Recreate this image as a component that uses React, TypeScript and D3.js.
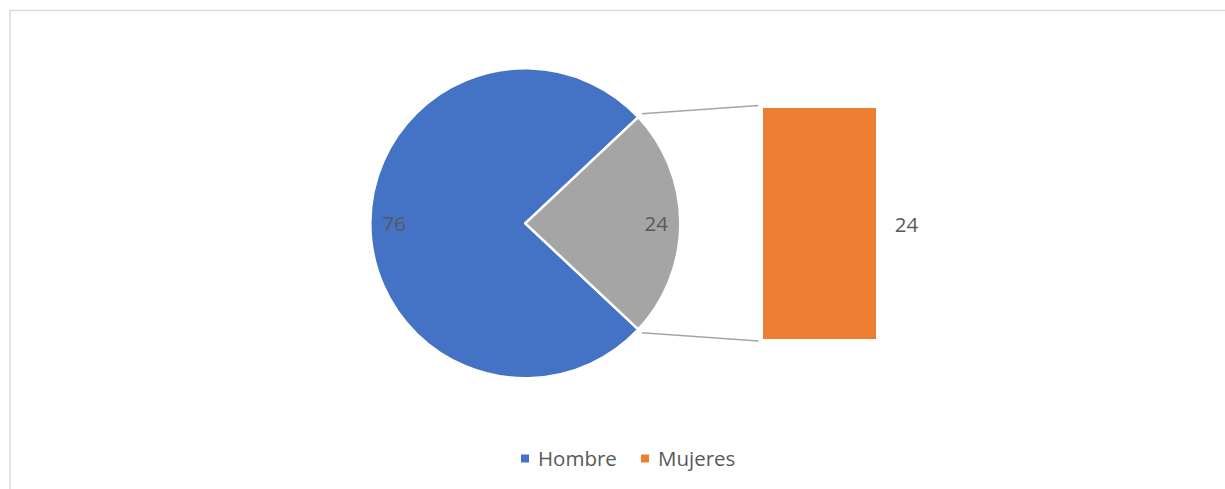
import React from "react";
import * as d3 from "d3";

const categories = ["Hombre", "Mujeres"];
const values = [76, 24];
const colors = ["#4472C4", "#ED7D31"];
const otherColor = "#A5A5A5";

const W = 1225;
const H = 489;

export default function App() {
  const cx = 525.3;
  const cy = 223.3;
  const r = 155;
  const total = d3.sum(values);
  const otherShare = values[1] / total;
  const start = Math.PI / 2 + otherShare * Math.PI;
  const pieGen = d3.pie<number>().sort(null).value((d) => d).startAngle(start).endAngle(start + 2 * Math.PI);
  const arcs = pieGen(values);
  const arcGen = d3.arc<d3.PieArcDatum<number>>().innerRadius(0).outerRadius(r);
  const labelArc = d3.arc<d3.PieArcDatum<number>>().innerRadius(131).outerRadius(131);

  // bar of pie
  const barX = 762.5;
  const barW = 114;
  const y = d3.scaleLinear().domain([0, values[1]]).range([339.5, 107.5]);

  const otherArc = arcs[1];
  const pt = (a: number, rr: number) => [cx + rr * Math.sin(a), cy - rr * Math.cos(a)];
  const p1 = pt(otherArc.startAngle, r + 5);
  const p2 = pt(otherArc.endAngle, r + 5);

  const font = "'Open Sans', sans-serif";
  const txt = "#595959";
  const fs = 20.5;

  return (
    <svg width={W} height={H} style={{ position: "absolute", left: 0, top: 0, background: "#fff" }}>
      <rect x={10} y={10.5} width={W + 50} height={H + 50} fill="#fff" stroke="#D9D9D9" strokeWidth={1.5} />
      <g transform={`translate(${cx},${cy})`}>
        {arcs.map((a, i) => (
          <path key={i} d={arcGen(a) || ""} fill={i === 0 ? colors[0] : otherColor} stroke="#fff" strokeWidth={2.5} strokeLinejoin="round" />
        ))}
        {arcs.map((a, i) => {
          const [lx, ly] = labelArc.centroid(a);
          return (
            <text key={i} x={lx} y={ly + 1} dy="0.35em" textAnchor="middle" fontFamily={font} fontSize={fs} fill={txt}>
              {a.data}
            </text>
          );
        })}
      </g>
      <line x1={p1[0]} y1={p1[1]} x2={barX - 4} y2={y(values[1]) - 2} stroke="#A5A5A5" strokeWidth={1.5} />
      <line x1={p2[0]} y1={p2[1]} x2={barX - 4} y2={y(0) + 1.5} stroke="#A5A5A5" strokeWidth={1.5} />
      <rect x={barX} y={y(values[1])} width={barW} height={y(0) - y(values[1])} fill={colors[1]} stroke="#fff" strokeWidth={1} />
      <text x={barX + barW + 30} y={(y(0) + y(values[1])) / 2 + 1} dy="0.35em" textAnchor="middle" fontFamily={font} fontSize={fs} fill={txt}>
        {values[1]}
      </text>
      {/* legend */}
      {categories.map((c, i) => {
        const lx = i === 0 ? 521 : 641;
        return (
          <g key={c}>
            <rect x={lx} y={454.5} width={8} height={8} fill={colors[i]} />
            <text x={lx + 17} y={466} fontFamily={font} fontSize={fs} fill={txt}>
              {c}
            </text>
          </g>
        );
      })}
    </svg>
  );
}
